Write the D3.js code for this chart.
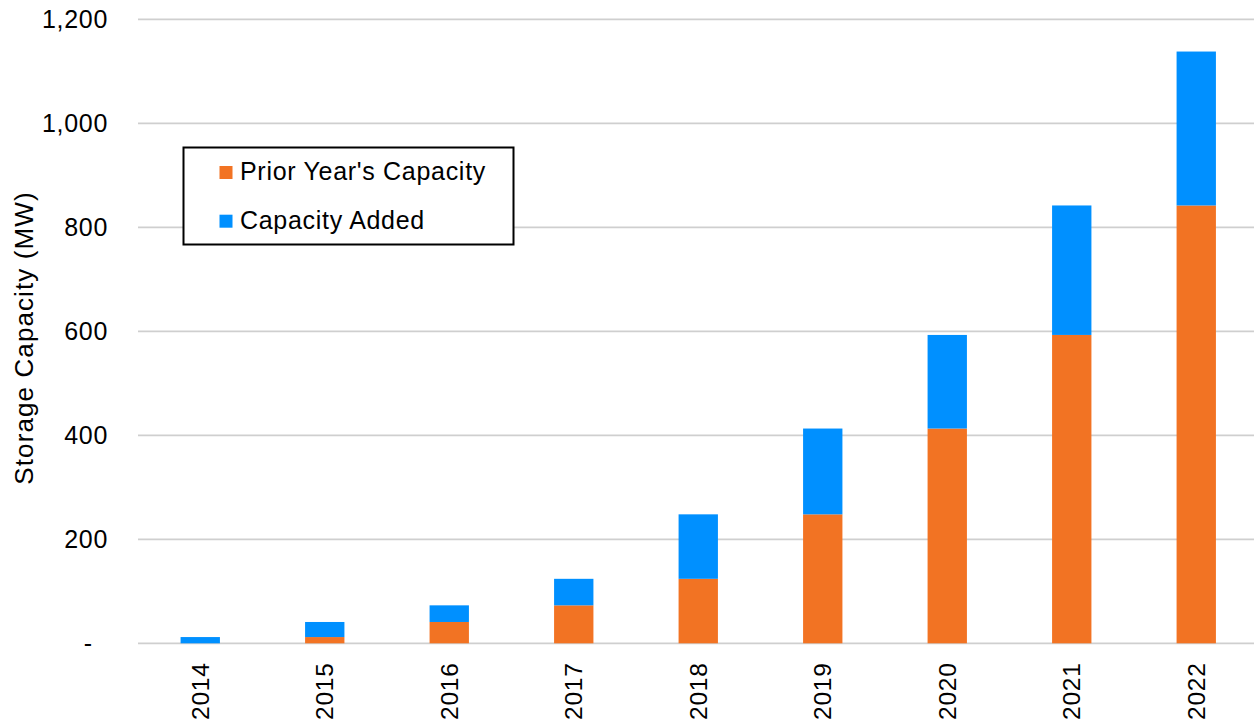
<!DOCTYPE html>
<html>
<head>
<meta charset="utf-8">
<script src="https://cdn.jsdelivr.net/npm/d3@7"></script>
<style>
  html, body { margin: 0; padding: 0; background: #fff; }
  svg { display: block; }
  text { font-family: "Liberation Sans", Arial, sans-serif; fill: #000; }
</style>
</head>
<body>
<svg id="chart" width="1254" height="724"></svg>
<script>
// ---- data ----
const years = ["2014", "2015", "2016", "2017", "2018", "2019", "2020", "2021", "2022"];
const priorCapacity = [0, 12, 41, 73, 124, 248, 413, 593, 842];
const capacityAdded = [12, 29, 32, 51, 124, 165, 180, 249, 296];
const yTicks = [0, 200, 400, 600, 800, 1000, 1200];
const seriesNames = ["Prior Year's Capacity", "Capacity Added"];
const seriesColors = ["#F27323", "#0090FF"];
const yTitle = "Storage Capacity (MW)";

// ---- layout ----
const W = 1254, H = 724;
const plot = { left: 138, right: 1258.5, top: 19.3, bottom: 643.3 };

const svg = d3.select("#chart");

const x = d3.scaleBand()
  .domain(years)
  .range([plot.left, plot.right])
  .paddingInner(0.684)
  .paddingOuter(0.342);

const y = d3.scaleLinear()
  .domain([0, 1200])
  .range([plot.bottom, plot.top]);

// gridlines
svg.append("g")
  .selectAll("line")
  .data(yTicks)
  .join("line")
  .attr("x1", plot.left)
  .attr("x2", W)
  .attr("y1", d => y(d))
  .attr("y2", d => y(d))
  .attr("stroke", "#cfcfcf")
  .attr("stroke-width", 1.8);

// y tick labels
const fmt = d3.format(",");
svg.append("g")
  .selectAll("text")
  .data(yTicks)
  .join("text")
  .attr("x", 108)
  .attr("y", d => y(d))
  .attr("dy", 8.9)
  .attr("text-anchor", "end")
  .style("font-size", "25px")
  .style("letter-spacing", "0.7px")
  .style("white-space", "pre")
  .text(d => d === 0 ? "-\u00a0\u00a0" : fmt(d));

// stacked data
const rows = years.map((yr, i) => ({ year: yr, prior: priorCapacity[i], added: capacityAdded[i] }));
const stack = d3.stack().keys(["prior", "added"]);
const stacked = stack(rows);

svg.append("g")
  .selectAll("g")
  .data(stacked)
  .join("g")
  .attr("fill", (d, i) => seriesColors[i])
  .selectAll("rect")
  .data(d => d)
  .join("rect")
  .attr("x", d => x(d.data.year))
  .attr("width", x.bandwidth())
  .attr("y", d => y(d[1]))
  .attr("height", d => Math.max(0, y(d[0]) - y(d[1])));

// x labels (rotated)
svg.append("g")
  .selectAll("text")
  .data(years)
  .join("text")
  .attr("transform", d => `translate(${x(d) + x.bandwidth() / 2 + 8.7},662.3) rotate(-90)`)
  .attr("text-anchor", "end")
  .style("font-size", "24.5px")
  .style("letter-spacing", "0.8px")
  .text(d => d);

// y axis title
svg.append("text")
  .attr("transform", `translate(32.5,338) rotate(-90)`)
  .attr("text-anchor", "middle")
  .style("font-size", "26px")
  .style("letter-spacing", "1.1px")
  .text(yTitle);

// legend
const lg = svg.append("g");
lg.append("rect")
  .attr("x", 183.5)
  .attr("y", 147.5)
  .attr("width", 330)
  .attr("height", 97)
  .attr("fill", "#fff")
  .attr("stroke", "#000")
  .attr("stroke-width", 2);

const items = lg.selectAll("g.item")
  .data(seriesNames)
  .join("g")
  .attr("class", "item")
  .attr("transform", (d, i) => `translate(219.5,${166 + i * 48.7})`);

items.append("rect")
  .attr("width", 13)
  .attr("height", 13)
  .attr("fill", (d, i) => seriesColors[i]);

items.append("text")
  .attr("x", 20.5)
  .attr("y", 14)
  .style("font-size", "25px")
  .style("letter-spacing", "0.7px")
  .text(d => d);
</script>
</body>
</html>
